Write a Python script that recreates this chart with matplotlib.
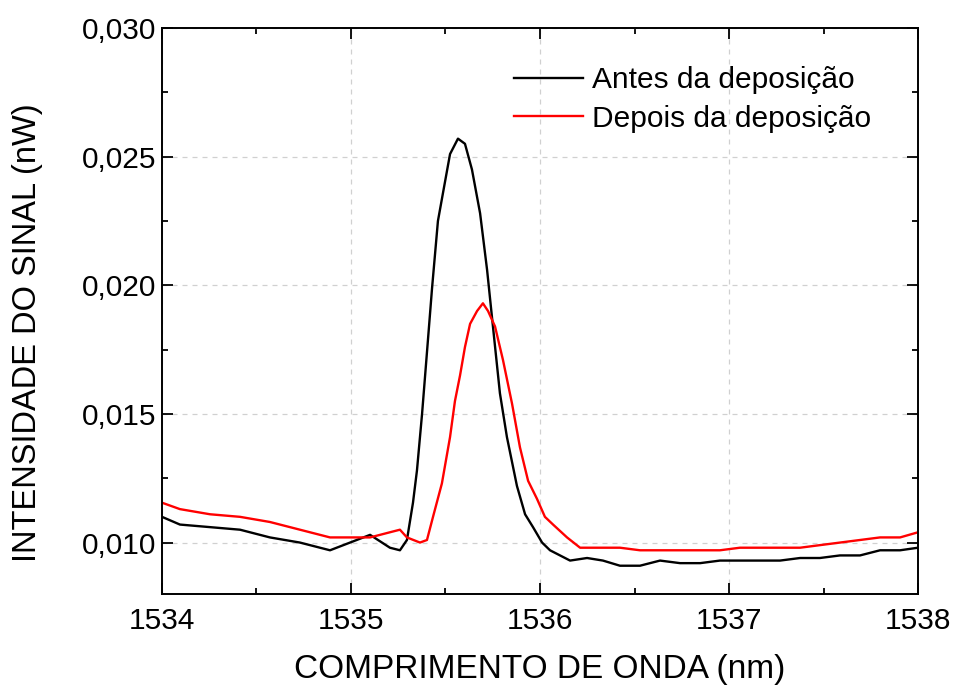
import numpy as np
import matplotlib
matplotlib.use("Agg")
import matplotlib.pyplot as plt
from matplotlib.ticker import MultipleLocator, FuncFormatter

# Values
wl_antes = [1534.000, 1534.095, 1534.254, 1534.413, 1534.571, 1534.730, 1534.889,
            1534.995, 1535.101, 1535.206, 1535.259, 1535.296, 1535.328, 1535.349,
            1535.376, 1535.402, 1535.429, 1535.460, 1535.487, 1535.524, 1535.566,
            1535.603, 1535.640, 1535.683, 1535.720, 1535.751, 1535.788, 1535.825,
            1535.878, 1535.921, 1535.963, 1536.011, 1536.053, 1536.159, 1536.249,
            1536.333, 1536.423, 1536.529, 1536.635, 1536.741, 1536.847, 1536.952,
            1537.058, 1537.164, 1537.270, 1537.376, 1537.481, 1537.587, 1537.693,
            1537.799, 1537.905, 1538.000]
int_antes = [0.0110, 0.0107, 0.0106, 0.0105, 0.0102, 0.0100, 0.0097,
             0.0100, 0.0103, 0.0098, 0.0097, 0.0101, 0.01155, 0.0128,
             0.0150, 0.0174, 0.0199, 0.0225, 0.0236, 0.0251, 0.0257,
             0.0255, 0.0245, 0.0228, 0.0206, 0.0184, 0.0158, 0.0141,
             0.0122, 0.0111, 0.0106, 0.0100, 0.0097, 0.0093, 0.0094,
             0.0093, 0.0091, 0.0091, 0.0093, 0.0092, 0.0092, 0.0093,
             0.0093, 0.0093, 0.0093, 0.0094, 0.0094, 0.0095, 0.0095,
             0.0097, 0.0097, 0.0098]

wl_depois = [1534.000, 1534.095, 1534.254, 1534.413, 1534.571, 1534.730, 1534.889,
             1534.995, 1535.101, 1535.206, 1535.259, 1535.296, 1535.365, 1535.402,
             1535.434, 1535.481, 1535.524, 1535.550, 1535.577, 1535.603, 1535.630,
             1535.667, 1535.698, 1535.725, 1535.762, 1535.804, 1535.852, 1535.894,
             1535.937, 1535.984, 1536.026, 1536.069, 1536.143, 1536.212, 1536.317,
             1536.423, 1536.529, 1536.635, 1536.741, 1536.847, 1536.952, 1537.058,
             1537.164, 1537.270, 1537.376, 1537.481, 1537.587, 1537.693, 1537.799,
             1537.905, 1538.000]
int_depois = [0.01155, 0.0113, 0.0111, 0.0110, 0.0108, 0.0105, 0.0102,
              0.0102, 0.0102, 0.0104, 0.0105, 0.0102, 0.0100, 0.0101,
              0.0110, 0.0123, 0.0141, 0.0155, 0.0165, 0.0176, 0.0185,
              0.0190, 0.0193, 0.0190, 0.0184, 0.0171, 0.0154, 0.0137,
              0.0124, 0.0117, 0.0110, 0.0107, 0.0102, 0.0098, 0.0098,
              0.0098, 0.0097, 0.0097, 0.0097, 0.0097, 0.0097, 0.0098,
              0.0098, 0.0098, 0.0098, 0.0099, 0.0100, 0.0101, 0.0102,
              0.0102, 0.0104]

labels = ["Antes da deposição", "Depois da deposição"]

plt.rcParams["font.family"] = ["Liberation Sans", "DejaVu Sans"]

fig = plt.figure(figsize=(9.55, 6.9), dpi=100)
ax = fig.add_axes([0.1696, 0.1391, 0.7917, 0.8203])

ax.plot(wl_antes, int_antes, color="black", lw=1.7, label=labels[0])
ax.plot(wl_depois, int_depois, color="#ff0000", lw=1.7, label=labels[1])

ax.set_xlim(1534, 1538)
ax.set_ylim(0.008, 0.030)
ax.xaxis.set_major_locator(MultipleLocator(1))
ax.xaxis.set_minor_locator(MultipleLocator(0.5))
ax.yaxis.set_major_locator(MultipleLocator(0.005))
ax.yaxis.set_minor_locator(MultipleLocator(0.0025))
ax.yaxis.set_major_formatter(FuncFormatter(lambda v, p: f"{v:.3f}".replace(".", ",")))

ax.grid(True, which="major", ls=(0, (4, 4)), color="#d0d0d0", lw=0.9)
ax.tick_params(which="both", direction="in", top=True, right=True, labelsize=21.5, width=1.3)
ax.tick_params(which="major", length=8)
ax.tick_params(which="minor", length=4)
ax.tick_params(axis="x", pad=9)
ax.tick_params(axis="y", pad=4)
for s in ax.spines.values():
    s.set_linewidth(1.4)

ax.set_xlabel("COMPRIMENTO DE ONDA (nm)", fontsize=24, labelpad=14)
ax.set_ylabel("INTENSIDADE DO SINAL (nW)", fontsize=23.5)
ax.yaxis.set_label_coords(-0.157, 0.462)

ax.legend(loc="upper right", frameon=False, fontsize=21.5, handlelength=2.3,
          handletextpad=0.3, labelspacing=0.35, bbox_to_anchor=(0.973, 0.98))

fig.savefig("out.png", dpi=100)
